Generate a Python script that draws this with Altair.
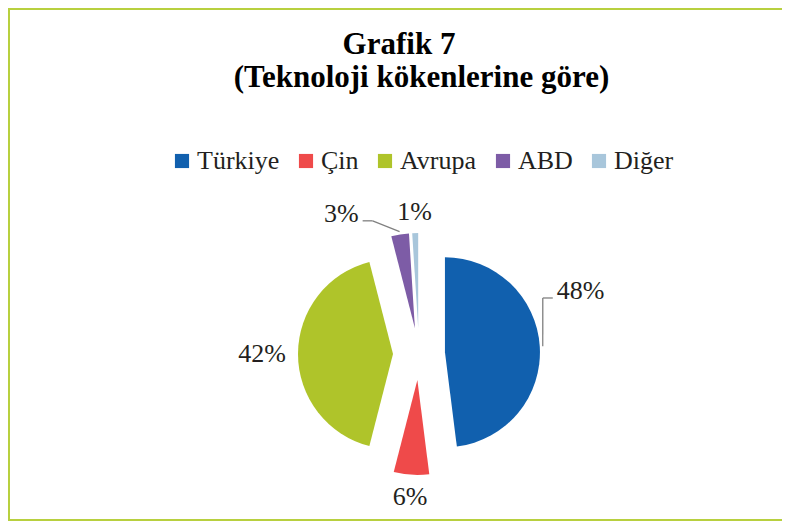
import altair as alt
import pandas as pd
import numpy as np

# ---- data ----
categories = ["Türkiye", "Çin", "Avrupa", "ABD", "Diğer"]
shares = [48, 6, 42, 3, 1]
label_texts = ["48%", "6%", "42%", "3%", "1%"]
colors = ["#1160AE", "#EF4A4A", "#AFC42A", "#7D5CA6", "#A8C6DB"]
title_line1 = "Grafik 7"
title_line2 = "(Teknoloji kökenlerine göre)"

# ---- layout / style ----
W, H = 774, 513
CX, CY = 411, 346          # pie centre
R = 95                     # pie radius
EXPLODE = 26               # slice explosion
LABEL_FONT = 26
FONT = "Liberation Serif"
TEXT_COLOR = "#231F20"
FRAME_COLOR = "#B8D03F"
# best-fit label moves (angle shift in degrees, extra distance) -> with leader lines
LABEL_MOVE = {"Türkiye": (-17.7, 15), "ABD": (-20, 11)}

total = sum(shares)
rows, leaders = [], []
cum = 0.0
for i, (c, v, t) in enumerate(zip(categories, shares, label_texts)):
    start, end = cum, cum + v
    cum = end
    mid = np.radians((start + end) / 2 / total * 360)
    ax = CX + EXPLODE * np.sin(mid)
    ay = CY - EXPLODE * np.cos(mid)
    shift, extra = LABEL_MOVE.get(c, (0, 0))
    la = mid + np.radians(shift)
    hw = LABEL_FONT * (0.5 * (len(t) - 1) + 0.833) / 2
    hh = 9
    d = 133 + extra + hw * abs(np.sin(la)) + hh * abs(np.cos(la))
    lx = CX + d * np.sin(la)
    ly = CY - d * np.cos(la)
    rows.append(dict(idx=i, category=c, start=start, end=end, ax=ax, ay=ay,
                     lx=lx, ly=ly, label=t))
    if c in LABEL_MOVE:
        px = ax + (R + 3) * np.sin(mid)
        py = ay - (R + 3) * np.cos(mid)
        if lx > ax:
            aax = lx - hw - 4
            ex = aax - 10
        else:
            aax = lx + hw + 4
            ex = aax + 10
        aay = ly + 7
        leaders.append(dict(category=c, px=px, py=py, ex=ex, ey=aay, qx=aax, qy=aay))

df = pd.DataFrame(rows)
ld = pd.DataFrame(leaders)

pie = alt.Chart(df).mark_arc(radius=R).encode(
    theta=alt.Theta("start:Q", scale=alt.Scale(domain=[0, total])),
    theta2="end:Q",
    x=alt.X("ax:Q", scale=None, axis=None),
    y=alt.Y("ay:Q", scale=None, axis=None),
    color=alt.Color(
        "category:N",
        scale=alt.Scale(domain=categories, range=colors),
        sort=categories,
        legend=alt.Legend(
            title=None, orient="none", legendX=161, legendY=140,
            direction="horizontal", columns=5,
            symbolType="square", symbolSize=200, symbolStrokeWidth=0,
            symbolOpacity=1, labelFont=FONT, labelFontSize=LABEL_FONT,
            labelColor=TEXT_COLOR, labelOffset=2, columnPadding=13, padding=0,
        ),
    ),
)

labels = alt.Chart(df).mark_text(
    font=FONT, fontSize=LABEL_FONT, color=TEXT_COLOR, align="center", baseline="middle"
).encode(
    x=alt.X("lx:Q", scale=None, axis=None),
    y=alt.Y("ly:Q", scale=None, axis=None),
    text="label:N",
)

lead1 = alt.Chart(ld).mark_rule(color="#808080", strokeWidth=1.3).encode(
    x=alt.X("px:Q", scale=None, axis=None), y=alt.Y("py:Q", scale=None, axis=None),
    x2="ex:Q", y2="ey:Q",
)
lead2 = alt.Chart(ld).mark_rule(color="#808080", strokeWidth=1.3).encode(
    x=alt.X("ex:Q", scale=None, axis=None), y=alt.Y("ey:Q", scale=None, axis=None),
    x2="qx:Q", y2="qy:Q",
)

one = alt.Data(values=[{"a": 1}])
t1 = alt.Chart(one).mark_text(
    font=FONT, fontSize=31, fontWeight="bold", color="black",
    align="center", baseline="alphabetic", text=title_line1,
).encode(x=alt.value(391), y=alt.value(46))
t2 = alt.Chart(one).mark_text(
    font=FONT, fontSize=31, fontWeight="bold", color="black",
    align="center", baseline="alphabetic", text=title_line2,
).encode(x=alt.value(413.5), y=alt.value(79))

frame_left = alt.Chart(one).mark_rule(color=FRAME_COLOR, strokeWidth=2).encode(
    x=alt.value(1), y=alt.value(0), y2=alt.value(H))
frame_top = alt.Chart(one).mark_rule(color=FRAME_COLOR, strokeWidth=2).encode(
    x=alt.value(0), x2=alt.value(W), y=alt.value(1))
frame_bottom = alt.Chart(one).mark_rule(color=FRAME_COLOR, strokeWidth=2).encode(
    x=alt.value(0), x2=alt.value(W), y=alt.value(H - 1))

chart = alt.layer(
    frame_left, frame_top, frame_bottom, t1, t2, pie, lead1, lead2, labels
).properties(
    width=W, height=H, autosize=alt.AutoSizeParams(type="none"), padding=0,
    background="white",
).configure_view(stroke=None)

chart.save("out.html", embed_options={"renderer": "svg", "actions": False})
